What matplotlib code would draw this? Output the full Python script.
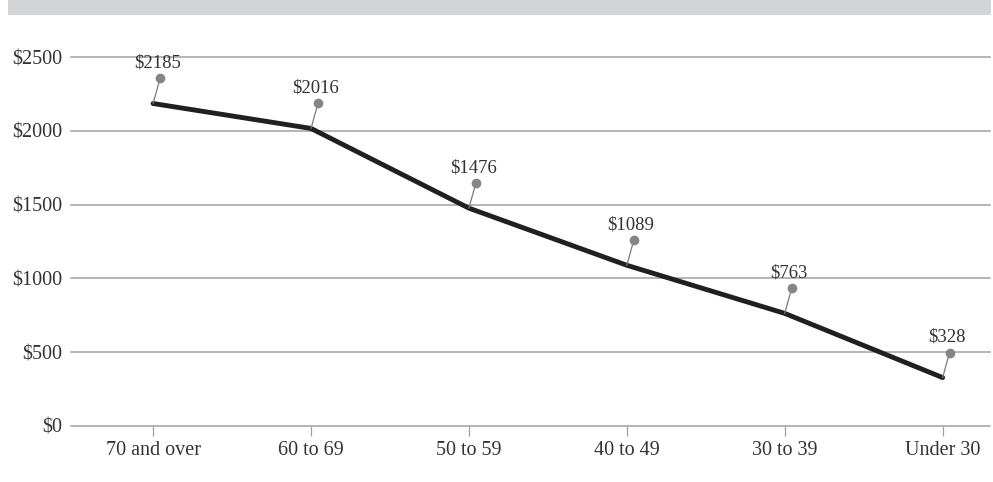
import matplotlib
matplotlib.use("Agg")
import matplotlib.pyplot as plt
import matplotlib.transforms as mtransforms
from matplotlib.patches import Rectangle

# Spending by age group
categories = ["70 and over", "60 to 69", "50 to 59", "40 to 49", "30 to 39", "Under 30"]
values = [2185, 2016, 1476, 1089, 763, 328]
y_ticks = [0, 500, 1000, 1500, 2000, 2500]
y_tick_labels = ["$0", "$500", "$1000", "$1500", "$2000", "$2500"]

plt.rcParams["font.family"] = ["Liberation Serif", "DejaVu Serif"]

W, H = 993, 482
fig = plt.figure(figsize=(W / 100, H / 100), dpi=100)
fig.patch.set_facecolor("white")

# header band
fig.add_artist(Rectangle((8 / W, 1 - 15 / H), (991 - 8) / W, 15 / H,
                         transform=fig.transFigure, facecolor="#d3d4d6",
                         edgecolor="none"))

ax = fig.add_axes([71 / W, 56 / H, (990 - 71) / W, (426 - 57) / H])
x = list(range(len(categories)))
ax.set_xlim(-0.52, 5.3)
ax.set_ylim(0, 2500)

grid_color = "#a0a0a0"
for yv in y_ticks:
    ax.axhline(yv, color=grid_color, lw=1.1, zorder=1, clip_on=False)

for s in ax.spines.values():
    s.set_visible(False)

ax.set_yticks(y_ticks)
ax.set_yticklabels(y_tick_labels)
ax.set_xticks(x)
ax.set_xticklabels(categories)
ax.tick_params(axis="y", length=0, pad=6.5, labelsize=14.5, labelcolor="#333333")
ax.tick_params(axis="x", length=7.5, width=0.9, color=grid_color, pad=3.5,
               labelsize=14.5, labelcolor="#333333")

ax.plot(x, values, color="#231f20", lw=3.5, solid_capstyle="round",
        solid_joinstyle="round", zorder=3)

# value callouts: small pin with a leader line
dx_pt, dy_pt = 5, 18
pin_offset = mtransforms.ScaledTranslation(dx_pt / 72, dy_pt / 72, fig.dpi_scale_trans)
for xi, v in zip(x, values):
    ax.annotate("", xy=(xi, v), xytext=(dx_pt, dy_pt), textcoords="offset points",
                arrowprops=dict(arrowstyle="-", color="#7a7a7a", lw=0.9,
                                shrinkA=0, shrinkB=0), zorder=4)
    ax.plot([xi], [v], linestyle="none", marker="o", markersize=7,
            markerfacecolor="#858585", markeredgecolor="none", zorder=5,
            transform=ax.transData + pin_offset, clip_on=False)
    ax.annotate(f"${v}", xy=(xi, v), xytext=(dx_pt - 2, dy_pt + 5),
                textcoords="offset points", ha="center", va="bottom",
                fontsize=13.5, color="#333333", zorder=6)

fig.savefig("out.png", dpi=100, facecolor="white")
